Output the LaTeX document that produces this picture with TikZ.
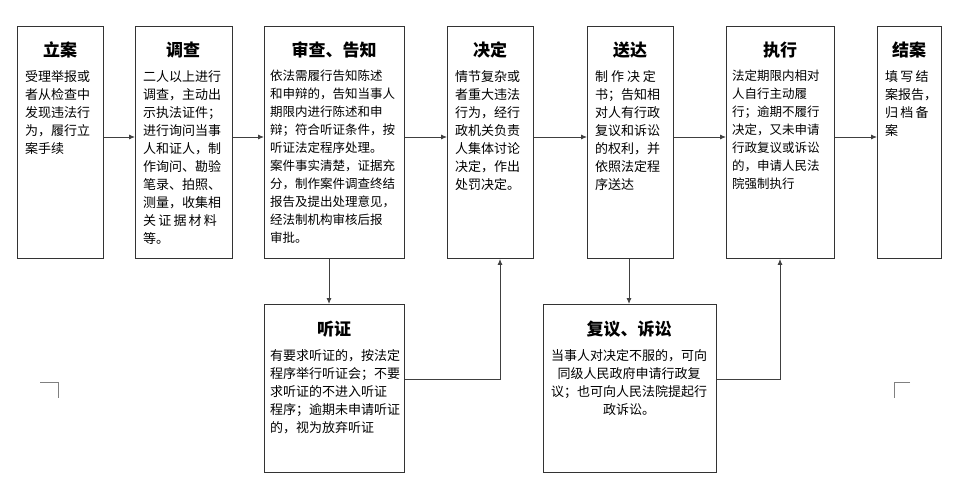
\documentclass[tikz,border=0pt]{standalone}
\usepackage{fontspec}
\newfontfamily\cjk{Noto Sans CJK SC}
\usetikzlibrary{arrows.meta}
\begin{document}
\begin{tikzpicture}[x=1pt,y=-1pt,
  box/.style={draw=black!80,line width=0.9pt,anchor=north west,inner sep=0pt},
  ttl/.style={font=\cjk\bfseries\fontsize{17}{19}\selectfont,anchor=center},
  body/.style={font=\cjk\fontsize{13}{18}\selectfont,align=left,anchor=north west,inner sep=0pt},
  bodys/.style={font=\cjk\fontsize{12.5}{18}\selectfont,align=left,anchor=north west,inner sep=0pt},
  bodyc/.style={font=\cjk\fontsize{13}{18}\selectfont,align=center,anchor=north,inner sep=0pt},
  conn/.style={draw=black!75,line width=0.9pt,-{Latex[length=6pt,width=5pt]}},
  ln/.style={draw=black!75,line width=0.9pt}]
\useasboundingbox (0,0) rectangle (964,481);
\newcommand{\mybox}[5]{\node[box,minimum width=#3-#1,minimum height=#4-#2] (#5) at (#1,#2) {};}
\mybox{17}{26}{103}{258}{b1}
\mybox{135}{26}{232}{258}{b2}
\mybox{264}{26}{404}{258}{b3}
\mybox{447}{26}{533}{258}{b4}
\mybox{587}{26}{673}{258}{b5}
\mybox{726}{26}{834}{258}{b6}
\mybox{877}{26}{941}{258}{b7}
\mybox{264}{304}{404}{472}{h1}
\mybox{543}{304}{716}{472}{h2}
% titles
\node[ttl] (t1) at (60,50) {立案};
\node[ttl] (t2) at (183,50) {调查};
\node[ttl] (t3) at (334,50) {审查、告知};
\node[ttl] (t4) at (490,50) {决定};
\node[ttl] (t5) at (630,50) {送达};
\node[ttl] (t6) at (780,50) {执行};
\node[ttl] (t7) at (909,50) {结案};
\node[ttl] (t8) at (334,329) {听证};
\node[ttl] (t9) at (629,329) {复议、诉讼};
% bodies
\node[body] (x1) at (25,70) {受理举报或\\者从检查中\\发现违法行\\为，履行立\\案手续};
\node[body] (x2) at (143,70) {二人以上进行\\调查，主动出\\示执法证件；\\进行询问当事\\人和证人，制\\作询问、勘验\\笔录、拍照、\\测量，收集相\\关\,证\,据\,材\,料\\等。};
\node[bodys] (x3) at (270,70) {依法需履行告知陈述\\和申辩的，告知当事人\\期限内进行陈述和申\\辩；符合听证条件，按\\听证法定程序处理。\\案件事实清楚，证据充\\分，制作案件调查终结\\报告及提出处理意见，\\经法制机构审核后报\\审批。};
\node[body] (x4) at (455,70) {情节复杂或\\者重大违法\\行为，经行\\政机关负责\\人集体讨论\\决定，作出\\处罚决定。};
\node[body] (x5) at (595,70) {制\ 作\ 决\ 定\\书；告知相\\对人有行政\\复议和诉讼\\的权利，并\\依照法定程\\序送达};
\node[bodys] (x6) at (732,70) {法定期限内相对\\人自行主动履\\行；逾期不履行\\决定，又未申请\\行政复议或诉讼\\的，申请人民法\\院强制执行};
\node[body] (x7) at (885,70) {填\,写\,结\\案报告，\\归\,档\,备\\案};
\node[body] (x8) at (270,349) {有要求听证的，按法定\\程序举行听证会；不要\\求听证的不进入听证\\程序；逾期未申请听证\\的，视为放弃听证};
\node[bodyc] (x9) at (629,349) {当事人对决定不服的，可向\\同级人民政府申请行政复\\议；也可向人民法院提起行\\政诉讼。};
% connectors
\draw[conn] (b1.east |- 0,137) -- (b2.west |- 0,137);
\draw[conn] (b2.east |- 0,137) -- (b3.west |- 0,137);
\draw[conn] (b3.east |- 0,137) -- (b4.west |- 0,137);
\draw[conn] (b4.east |- 0,137) -- (b5.west |- 0,137);
\draw[conn] (b5.east |- 0,137) -- (b6.west |- 0,137);
\draw[conn] (b6.east |- 0,137) -- (b7.west |- 0,137);
\draw[conn] (b3.south -| 329,0) -- (h1.north -| 329,0);
\draw[conn] (h1.east |- 0,379) -- (500,379) -- (b4.south -| 500,0);
\draw[conn] (b5.south -| 629,0) -- (h2.north -| 629,0);
\draw[conn] (h2.east |- 0,379) -- (780,379) -- (b6.south -| 780,0);
% crop marks
\draw[black!50,line width=0.6pt] (40,382) -- (58,382) -- (58,398);
\draw[black!50,line width=0.6pt] (910,382) -- (894,382) -- (894,398);
\end{tikzpicture}
\end{document}
